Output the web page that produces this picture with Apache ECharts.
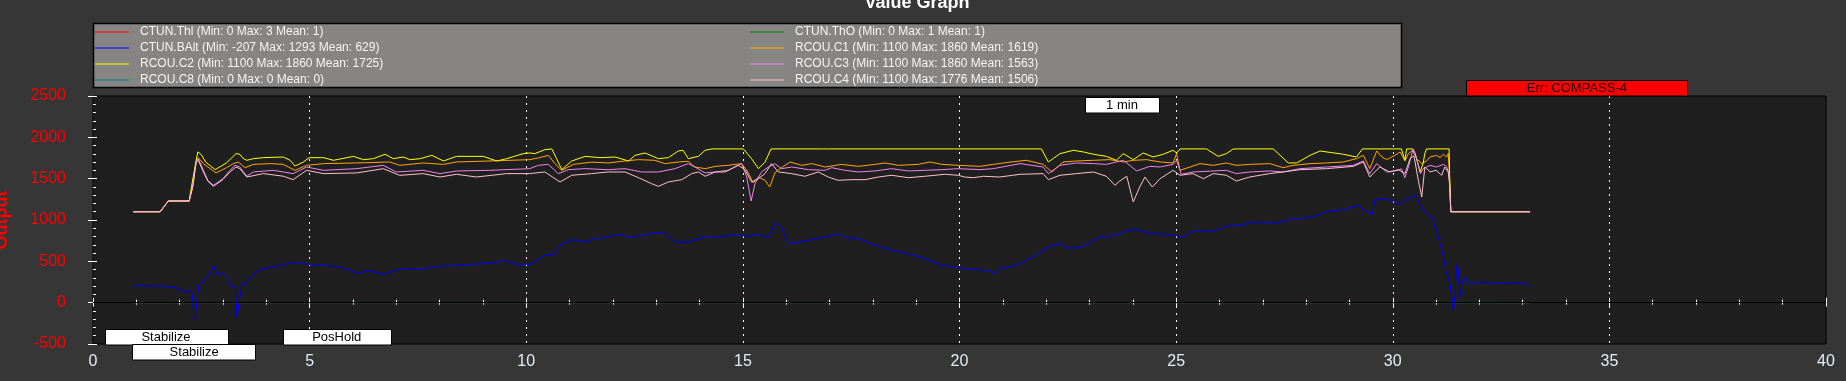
<!DOCTYPE html>
<html>
<head>
<meta charset="utf-8">
<script src="https://cdn.jsdelivr.net/npm/echarts@6/dist/echarts.min.js"></script>
<style>
html,body{margin:0;padding:0;background:#363636;}
#chart{width:1846px;height:381px;}
</style>
</head>
<body>
<div id="chart"></div>
<script>
// ---------- DATA (time in minutes, value) ----------
const seriesNames = ['CTUN.Thl','CTUN.ThO','CTUN.BAlt','RCOU.C1','RCOU.C2','RCOU.C3','RCOU.C8','RCOU.C4'];
const statMin  = [0, 0, -207, 1100, 1100, 1100, 0, 1100];
const statMax  = [3, 1, 1293, 1860, 1860, 1860, 0, 1776];
const statMean = [1, 1, 629, 1619, 1725, 1563, 0, 1506];

const ctunThl = [[0.93,0],[2.3,1],[31.05,1],[31.09,3],[31.36,3],[31.4,0],[33.17,0]];
const ctunThO = [[0.93,0],[2.3,1],[31.3,1],[31.35,0],[33.17,0]];
const rcouC8  = [[0.93,0],[33.17,0]];

const ctunBAlt = [[0.93,210],[1.2,200],[1.47,205],[1.7,195],[1.85,190],[2.0,160],[2.12,129],[2.24,150],[2.29,110],[2.33,-207],[2.36,-180],[2.41,80],[2.45,230],[2.58,270],[2.7,351],[2.79,440],[2.87,330],[2.97,360],[3.08,310],[3.2,190],[3.29,190],[3.32,-173],[3.35,-190],[3.39,69],[3.45,230],[3.55,250],[3.7,351],[3.93,411],[4.24,440],[4.55,480],[4.78,488],[4.93,464],[5.32,448],[5.55,440],[5.78,423],[6.08,359],[6.39,383],[6.7,343],[7.01,399],[7.32,411],[7.62,411],[8.01,440],[8.39,452],[8.78,464],[9.16,480],[9.55,504],[9.78,464],[10.08,464],[10.2,492],[10.43,573],[10.62,573],[10.82,714],[11.05,762],[11.36,734],[11.59,774],[11.82,790],[12.13,827],[12.43,786],[12.82,835],[13.16,851],[13.43,734],[13.74,734],[14.05,786],[14.43,798],[14.74,815],[15.05,806],[15.36,815],[15.59,794],[15.76,976],[15.89,906],[16.05,714],[16.28,734],[16.59,762],[16.9,794],[17.24,835],[17.36,786],[17.66,774],[18.05,694],[18.43,633],[18.82,593],[19.2,532],[19.59,452],[19.97,423],[20.39,399],[20.7,383],[20.82,351],[20.93,411],[21.32,452],[21.7,553],[22.09,682],[22.32,714],[22.55,653],[22.86,682],[23.24,794],[23.62,815],[23.86,875],[24.09,883],[24.39,835],[24.78,827],[25.16,794],[25.39,875],[25.86,867],[26.16,924],[26.55,948],[26.93,976],[27.32,964],[27.7,1016],[28.09,1028],[28.47,1097],[28.86,1125],[29.2,1178],[29.36,1117],[29.53,1069],[29.59,1246],[29.78,1258],[30.01,1230],[30.13,1190],[30.4,1270],[30.55,1293],[30.63,1178],[30.78,1077],[30.9,1036],[31.01,875],[31.09,714],[31.17,553],[31.24,351],[31.32,230],[31.36,69],[31.4,-101],[31.44,100],[31.47,452],[31.51,410],[31.55,69],[31.61,270],[31.67,310],[31.74,238],[32.09,250],[32.47,230],[32.8,238],[33.13,222]];

const rcouC1 = [[0.93,1100],[1.55,1100],[1.74,1230],[2.22,1230],[2.3,1400],[2.38,1700],[2.43,1754],[2.55,1680],[2.84,1569],[3.08,1633],[3.24,1682],[3.35,1702],[3.51,1633],[3.7,1673],[4.09,1682],[4.39,1673],[4.66,1601],[4.93,1661],[5.32,1682],[6.08,1690],[6.85,1702],[7.08,1661],[7.62,1690],[8.09,1673],[8.39,1702],[9.16,1714],[10.08,1730],[10.28,1751],[10.51,1782],[10.66,1682],[10.82,1601],[11.09,1673],[11.51,1700],[11.89,1690],[12.28,1714],[12.59,1730],[12.97,1722],[13.2,1682],[13.51,1702],[13.74,1710],[13.89,1641],[14.13,1621],[14.36,1649],[14.66,1661],[14.97,1682],[15.09,1601],[15.24,1448],[15.36,1520],[15.51,1480],[15.62,1399],[15.74,1573],[15.89,1633],[16.09,1702],[16.36,1661],[16.59,1682],[16.9,1641],[17.28,1673],[17.66,1649],[18.05,1673],[18.28,1690],[18.59,1661],[19.05,1673],[19.32,1702],[19.59,1673],[19.97,1661],[20.47,1649],[20.78,1673],[21.01,1690],[21.4,1714],[21.55,1722],[21.93,1673],[22.13,1581],[22.39,1702],[22.7,1714],[23.09,1722],[23.47,1730],[23.78,1702],[24.01,1722],[24.32,1730],[24.63,1702],[24.93,1690],[25.01,1803],[25.09,1601],[25.32,1641],[25.55,1682],[25.86,1661],[26.16,1690],[26.39,1661],[26.7,1673],[27.16,1682],[27.47,1633],[27.7,1661],[28.09,1682],[28.47,1690],[28.86,1702],[29.16,1742],[29.32,1782],[29.47,1621],[29.63,1835],[29.75,1762],[29.86,1730],[30.05,1782],[30.17,1823],[30.28,1714],[30.36,1803],[30.46,1843],[30.55,1742],[30.67,1682],[30.78,1714],[30.86,1762],[31.01,1782],[31.09,1754],[31.17,1795],[31.24,1762],[31.28,1803],[31.31,1541],[31.34,1100],[33.17,1100]];

const rcouC2 = [[0.93,1100],[1.55,1100],[1.74,1230],[2.22,1230],[2.24,1300],[2.38,1722],[2.42,1823],[2.5,1790],[2.6,1700],[2.82,1609],[3.08,1690],[3.3,1803],[3.39,1795],[3.47,1742],[3.55,1722],[3.7,1742],[3.93,1754],[4.39,1762],[4.55,1722],[4.66,1653],[4.85,1700],[4.99,1754],[5.32,1754],[5.55,1722],[6.01,1770],[6.24,1730],[6.47,1742],[6.74,1795],[6.93,1742],[7.16,1762],[7.32,1730],[7.55,1742],[7.82,1782],[8.09,1714],[8.39,1770],[9.0,1770],[9.32,1714],[9.55,1742],[9.93,1803],[10.08,1811],[10.2,1803],[10.43,1851],[10.59,1860],[10.7,1742],[10.82,1609],[11.05,1714],[11.36,1770],[11.7,1754],[12.05,1762],[12.36,1714],[12.51,1782],[12.74,1811],[13.05,1742],[13.28,1754],[13.51,1835],[13.62,1843],[13.74,1742],[13.97,1770],[14.13,1843],[14.28,1860],[15.01,1860],[15.2,1742],[15.36,1621],[15.51,1700],[15.65,1860],[16.86,1860],[16.9,1843],[16.95,1860],[21.89,1860],[22.05,1702],[22.32,1803],[22.63,1843],[22.86,1823],[23.09,1795],[23.39,1770],[23.62,1722],[23.78,1803],[24.01,1730],[24.24,1811],[24.47,1762],[24.7,1795],[24.93,1843],[25.01,1811],[25.09,1860],[25.7,1860],[25.97,1770],[26.16,1803],[26.32,1860],[27.24,1860],[27.59,1690],[27.78,1690],[28.09,1782],[28.32,1835],[28.86,1795],[29.16,1762],[29.3,1860],[30.2,1860],[30.28,1722],[30.32,1860],[30.46,1860],[30.52,1803],[30.63,1581],[30.7,1682],[30.74,1803],[30.78,1860],[31.3,1860],[31.32,1400],[31.34,1100],[33.17,1100]];

const rcouC3 = [[0.93,1100],[1.55,1100],[1.74,1230],[2.22,1230],[2.3,1400],[2.38,1700],[2.43,1742],[2.55,1600],[2.65,1480],[2.78,1420],[3.0,1500],[3.16,1601],[3.28,1661],[3.39,1641],[3.55,1528],[3.7,1581],[4.16,1601],[4.62,1561],[4.93,1641],[5.32,1601],[6.08,1621],[6.7,1661],[7.0,1581],[7.62,1601],[8.01,1561],[8.39,1593],[9.16,1601],[10.08,1621],[10.28,1661],[10.51,1673],[10.74,1561],[10.97,1609],[11.36,1621],[11.89,1609],[12.28,1621],[12.66,1581],[13.05,1581],[13.43,1621],[13.74,1682],[13.89,1641],[14.13,1569],[14.36,1581],[14.66,1601],[14.97,1682],[15.09,1520],[15.19,1230],[15.28,1440],[15.43,1581],[15.59,1641],[15.74,1682],[15.89,1621],[16.13,1641],[16.51,1609],[16.9,1601],[17.05,1633],[17.36,1601],[17.66,1581],[18.05,1593],[18.43,1621],[18.82,1593],[19.2,1601],[19.59,1609],[19.97,1621],[20.47,1609],[20.78,1621],[21.4,1682],[21.93,1641],[22.05,1561],[22.32,1661],[22.7,1690],[23.09,1682],[23.39,1673],[23.78,1722],[24.09,1593],[24.39,1649],[24.63,1641],[24.93,1673],[25.01,1722],[25.12,1553],[25.39,1581],[25.86,1593],[26.16,1601],[26.39,1561],[26.7,1581],[27.16,1593],[27.47,1581],[27.86,1621],[28.47,1641],[29.09,1661],[29.32,1714],[29.47,1561],[29.63,1682],[29.86,1581],[30.13,1601],[30.2,1621],[30.28,1512],[30.36,1641],[30.47,1860],[30.55,1742],[30.64,1561],[30.7,1621],[30.86,1661],[31.01,1641],[31.17,1673],[31.24,1649],[31.3,1561],[31.34,1100],[33.17,1100]];

const rcouC4 = [[0.93,1100],[1.55,1100],[1.74,1230],[2.22,1230],[2.3,1400],[2.38,1700],[2.43,1722],[2.55,1580],[2.65,1470],[2.78,1407],[3.0,1490],[3.16,1580],[3.3,1641],[3.39,1620],[3.55,1520],[3.93,1561],[4.39,1530],[4.62,1488],[4.93,1601],[5.32,1561],[6.08,1569],[6.7,1621],[7.08,1540],[7.62,1561],[8.01,1520],[8.39,1553],[8.85,1520],[9.55,1561],[10.08,1561],[10.43,1581],[10.78,1460],[11.05,1541],[11.51,1561],[11.89,1581],[12.28,1581],[12.59,1512],[12.89,1440],[13.05,1407],[13.28,1460],[13.59,1488],[13.82,1561],[13.97,1581],[14.13,1529],[14.36,1581],[14.59,1581],[14.89,1661],[15.05,1609],[15.2,1460],[15.36,1500],[15.51,1561],[15.66,1682],[15.82,1581],[16.13,1561],[16.43,1529],[16.74,1581],[16.97,1520],[17.2,1480],[17.51,1488],[17.82,1488],[18.13,1520],[18.43,1541],[18.82,1512],[19.2,1529],[19.66,1553],[19.97,1541],[20.12,1520],[20.32,1512],[20.55,1529],[20.93,1520],[21.4,1553],[21.93,1561],[22.05,1488],[22.32,1541],[22.7,1561],[23.09,1581],[23.39,1529],[23.59,1420],[23.7,1472],[23.86,1529],[24.01,1218],[24.16,1399],[24.28,1520],[24.45,1399],[24.63,1500],[24.93,1601],[25.09,1541],[25.39,1561],[25.63,1500],[25.86,1561],[26.16,1541],[26.39,1472],[26.7,1520],[27.16,1561],[27.47,1581],[27.86,1609],[28.47,1621],[29.09,1649],[29.32,1702],[29.47,1520],[29.7,1641],[29.93,1581],[30.13,1609],[30.28,1561],[30.4,1742],[30.49,1776],[30.59,1480],[30.67,1278],[30.74,1641],[30.86,1581],[31.0,1601],[31.13,1541],[31.2,1641],[31.28,1581],[31.32,1400],[31.34,1100],[33.17,1100]];

const seriesData = [ctunThl, ctunThO, ctunBAlt, rcouC1, rcouC2, rcouC3, rcouC8, rcouC4];
const seriesColors = ['#ff0000','#008000','#0000ff','#ffa500','#ffff00','#ee82ee','#008080','#ffc0cb'];

const legendLeftNames  = ['CTUN.Thl','CTUN.BAlt','RCOU.C2','RCOU.C8'];
const legendRightNames = ['CTUN.ThO','RCOU.C1','RCOU.C3','RCOU.C4'];

const modeNames = ['Stabilize','Stabilize','PosHold'];
const modeStart = [0.27, 0.91, 4.38];
const modeEnd   = [3.1, 3.76, 6.87];
const modeRow   = [0, 1, 0];

const msgNames = ['1 min', 'Err: COMPASS-4'];
const msgStart = [22.9, 31.7];
const msgEnd   = [24.6, 36.8];

const xTicks = {min: 0, max: 40, interval: 5};
const yTicks = {min: -500, max: 2500, interval: 500};

// ---------- CHART ----------
const FONT = 'Liberation Sans, Arial, sans-serif';
const chart = echarts.init(document.getElementById('chart'), null, {renderer: 'canvas'});

function legendFormatter(name) {
  const i = seriesNames.indexOf(name);
  return name + ' (Min: ' + statMin[i] + ' Max: ' + statMax[i] + ' Mean: ' + statMean[i] + ')';
}
function makeLegend(names, left) {
  return {
    data: names, orient: 'vertical', left: left, top: 24, itemGap: 0,
    icon: 'rect', itemWidth: 34, itemHeight: 1, selectedMode: false,
    padding: 0,
    formatter: legendFormatter,
    textStyle: {color: '#f4f4f4', fontSize: 12, fontFamily: FONT, lineHeight: 16, padding: [0,0,0,6]}
  };
}

const series = seriesNames.map((n, i) => {
  const s = {
    name: n, type: 'line', data: seriesData[i], showSymbol: false, symbol: 'none',
    lineStyle: {color: seriesColors[i], width: 1}, itemStyle: {color: seriesColors[i]},
    animation: false, silent: true
  };
  if (i === seriesNames.length - 1) {
    s.markLine = {
      silent: true, symbol: 'none', animation: false,
      label: {show: false},
      lineStyle: {color: '#000000', width: 1, type: 'solid'},
      data: [{yAxis: 0}]
    };
  }
  return s;
});

const plainNum = v => String(v);

const option = {
  backgroundColor: '#363636',
  animation: false,
  grid: {left: 93, right: 20, top: 96, bottom: 37, show: true, backgroundColor: '#1f1f1f', borderColor: '#000000', borderWidth: 1},
  legend: [makeLegend(legendLeftNames, 95), makeLegend(legendRightNames, 750)],
  xAxis: [
    {type: 'value', min: xTicks.min, max: xTicks.max, interval: xTicks.interval, position: 'bottom',
     axisLine: {show: false},
     axisTick: {show: true, inside: true, length: 5, lineStyle: {color: '#ffffff'}},
     minorTick: {show: true, splitNumber: 5, length: 3, lineStyle: {color: '#ffffff'}},
     axisLabel: {color: '#e6ecf5', fontSize: 16, fontFamily: FONT, margin: 10, formatter: plainNum},
     splitLine: {show: true, showMinLine: false, showMaxLine: false, lineStyle: {color: '#ffffff', width: 1, type: [2, 5]}}},
    {type: 'value', min: xTicks.min, max: xTicks.max, interval: xTicks.interval, position: 'top',
     axisLine: {show: false},
     axisTick: {show: true, inside: true, length: 4, lineStyle: {color: '#ffffff'}},
     minorTick: {show: true, splitNumber: 5, length: 2, lineStyle: {color: '#ffffff'}},
     axisLabel: {show: false}, splitLine: {show: false}}
  ],
  yAxis: [
    {type: 'value', min: yTicks.min, max: yTicks.max, interval: yTicks.interval,
     axisLine: {show: false},
     axisTick: {show: true, inside: false, length: 5, lineStyle: {color: '#ffffff'}},
     axisLabel: {color: '#ff0000', fontSize: 16, fontFamily: FONT, margin: 27, formatter: plainNum},
     splitLine: {show: false}},
    {type: 'value', min: yTicks.min, max: yTicks.max, interval: yTicks.interval, position: 'left',
     axisLine: {show: false},
     axisTick: {show: true, inside: true, length: 4, lineStyle: {color: '#ffffff'}},
     minorTick: {show: true, splitNumber: 5, length: 3, lineStyle: {color: '#ffffff'}},
     axisLabel: {show: false}, splitLine: {show: false}}
  ],
  series: series
};
chart.setOption(option);

// ---------- ANNOTATIONS (positions derived from axes) ----------
function px(t) { return chart.convertToPixel({xAxisIndex: 0}, t); }
const yTop = chart.convertToPixel({yAxisIndex: 0}, yTicks.max);
const yBot = chart.convertToPixel({yAxisIndex: 0}, yTicks.min);
const BOX_H = 15.5;

function boxEl(x1, x2, y, text, fill, textColor) {
  return {
    type: 'group', z: 100,
    children: [
      {type: 'rect', shape: {x: Math.round(x1) + 0.5, y: Math.round(y) + 0.5, width: Math.round(x2 - x1), height: BOX_H},
       style: {fill: fill, stroke: '#000000', lineWidth: 1}, z: 100},
      {type: 'text', x: (x1 + x2) / 2, y: y + BOX_H / 2 + 1,
       style: {text: text, fill: textColor, font: '13px ' + FONT, align: 'center', verticalAlign: 'middle'}, z: 101}
    ]
  };
}

const graphics = [];
// legend background box
graphics.push({type: 'rect', z: -1, shape: {x: 93.5, y: 23.5, width: 1308, height: 64},
  style: {fill: '#878583', stroke: '#000000', lineWidth: 1.5}});
// title
graphics.push({type: 'text', x: 917, y: 3, z: 10,
  style: {text: 'Value Graph', fill: '#ffffff', font: 'bold 18px ' + FONT, align: 'center', verticalAlign: 'middle'}});
// y axis name
graphics.push({type: 'text', x: 2, y: (yTop + yBot) / 2, rotation: Math.PI / 2, z: 10,
  style: {text: 'Output', fill: '#ff0000', font: 'bold 18px ' + FONT, align: 'center', verticalAlign: 'middle'}});
// flight modes
modeNames.forEach((n, i) => {
  const y = modeRow[i] === 0 ? yBot - BOX_H : yBot;
  graphics.push(boxEl(px(modeStart[i]), px(modeEnd[i]), y, n, '#ffffff', '#000000'));
});
// messages
graphics.push(boxEl(px(msgStart[0]), px(msgEnd[0]), yTop + 1, msgNames[0], '#ffffff', '#000000'));
graphics.push(boxEl(px(msgStart[1]), px(msgEnd[1]), yTop - 16, msgNames[1], '#ff0000', '#200000'));

chart.setOption({graphic: graphics});
</script>
</body>
</html>
